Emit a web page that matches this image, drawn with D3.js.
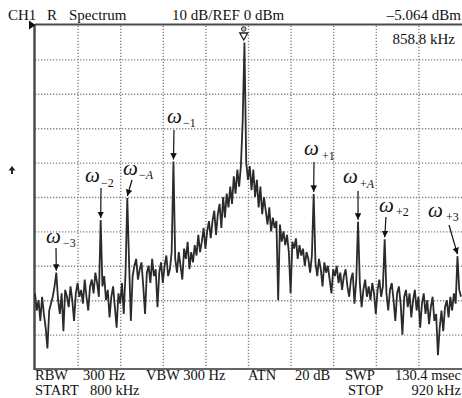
<!DOCTYPE html>
<html><head><meta charset="utf-8">
<script src="https://cdn.jsdelivr.net/npm/d3@7"></script>
<style>
html,body{margin:0;padding:0;background:#fff;}
svg{display:block;}
text{font-family:"Liberation Serif","Times New Roman",serif;fill:#111;}
</style></head>
<body><svg id="c" width="462" height="398"></svg>
<script>
// ---- data ----
const freqDomain = [800, 920];          // kHz
const levelDomain = [0, -100];          // dBm (REF 0 dBm, 10 dB/div)
const freqTicks = [800, 812, 824, 836, 848, 860, 872, 884, 896, 908, 920];
const levelTicks = [0, -10, -20, -30, -40, -50, -60, -70, -80, -90, -100];
const traceStart = 800, traceStep = 0.5; // kHz
const trace = [
 -78,-83,-80,-86,-79,-84,-88,-94,-83,-81,
 -79,-76,-72,-80,-84,-78,-89,-77,-79,-82,
 -76,-80,-86,-78,-75,-79,-77,-81,-74,-79,
 -83,-76,-74,-78,-72,-75,-79,-56.7,-76,-73,
 -80,-77,-85,-79,-76,-82,-88,-78,-81,-75,
 -84,-72,-50.3,-69,-86,-73,-70,-68,-74,-71,
 -69,-76,-84,-72,-70,-75,-68,-73,-71,-82,
 -72,-69,-75,-70,-67,-73,-71,-66,-39.7,-68,
 -72,-66,-70,-74,-65,-68,-63,-71,-66,-69,
 -64,-67,-61,-66,-63,-59,-65,-60,-57,-62,
 -57,-54,-61,-55,-52,-59,-50,-56,-49,-53,
 -47,-52,-44,-49,-42,-47,-41,-28,-5.064,
 -40,-45,-41,-48,-42,-50,-45,-53,-47,-55,-50,
 -54,-58,-53,-60,-56,-59,-57,-80,-58,-63,
 -60,-64,-61,-66,-78,-63,-65,-62,-68,-64,
 -67,-65,-70,-66,-68,-72,-67,-49.1,-69,-73,
 -68,-71,-76,-69,-72,-70,-74,-78,-71,-73,
 -70,-75,-72,-77,-73,-71,-76,-79,-74,-72,
 -81,-74,-57.2,-75,-82,-77,-74,-79,-76,-80,
 -75,-78,-84,-77,-74,-79,-76,-62.3,-78,-83,
 -77,-75,-80,-86,-78,-76,-81,-90,-79,-77,
 -82,-78,-85,-80,-77,-83,-79,-88,-81,-78,
 -84,-80,-87,-82,-79,-86,-84,-96,-88,-83,
 -89,-82,-80,-85,-79,-83,-78,-81,-67.2,-77,-79
];
const markerFreq = 858.8, markerLevel = -5.064;
// sideband annotations: subscript, spike frequency (kHz)
const sbSub  = ["\u22123", "\u22122", "\u2212A", "\u22121", "+1", "+A", "+2", "+3"];
const sbFreq = [806, 818.5, 826, 839, 878.5, 891, 898.5, 919];
const headerTexts = ["CH1", "R", "Spectrum", "10 dB/REF 0 dBm", "\u20135.064 dBm", "858.8 kHz"];
const footerTexts = ["RBW", "300 Hz", "VBW 300 Hz", "ATN", "20 dB", "SWP", "130.4 msec", "START", "800 kHz", "STOP", "920 kHz"];

// ---- layout ----
const L = 35, R = 461, T = 25, B = 369;
const svg = d3.select("#c");
const x = d3.scaleLinear().domain(freqDomain).range([L, R]);
const y = d3.scaleLinear().domain(levelDomain).range([T, B]);

// grid via axes
const gx = svg.append("g").attr("transform", `translate(0,${B})`)
  .call(d3.axisBottom(x).tickValues(freqTicks.slice(1, -1)).tickSize(-(B - T)).tickFormat(""));
const gy = svg.append("g").attr("transform", `translate(${L},0)`)
  .call(d3.axisLeft(y).tickValues(levelTicks.slice(1, -1)).tickSize(-(R - L + 2)).tickFormat(""));
[gx, gy].forEach(g => {
  g.select(".domain").remove();
  g.selectAll("line").attr("stroke", "#858585").attr("stroke-width", 1.4).attr("stroke-dasharray", "1.3,1.7");
});

// frame
svg.append("line").attr("x1", L).attr("x2", 462).attr("y1", T - 0.5).attr("y2", T - 0.5).attr("stroke", "#4a4a4a").attr("stroke-width", 2);
svg.append("line").attr("x1", L).attr("x2", 462).attr("y1", B).attr("y2", B).attr("stroke", "#666").attr("stroke-width", 2);
svg.append("line").attr("x1", L - 0.5).attr("x2", L - 0.5).attr("y1", T - 1).attr("y2", B + 1).attr("stroke", "#4a4a4a").attr("stroke-width", 2.5);
svg.append("path").attr("d", "M29,20.5 L35.5,25 L29,29.5 Z").attr("fill", "#111");

// trace
const line = d3.line().x((d, i) => x(traceStart + i * traceStep)).y(d => y(d)).curve(d3.curveLinear);
svg.append("path").datum(trace).attr("d", line).attr("fill", "none")
  .attr("stroke", "#2b2b2b").attr("stroke-width", 1.8).attr("stroke-linejoin", "miter").attr("stroke-miterlimit", 3);

// marker
const mx = x(markerFreq);
svg.append("circle").attr("cx", mx).attr("cy", 29).attr("r", 2.3).attr("fill", "#bbb").attr("stroke", "#333").attr("stroke-width", 1);
svg.append("path").attr("d", `M${mx - 4},33 L${mx + 4},33 L${mx},40 Z`).attr("fill", "#fff").attr("stroke", "#222").attr("stroke-width", 1.3);

// header / footer text
const hdr = [[8, 20, "start"], [47, 20, "start"], [69, 20, "start"], [172, 20, "start"], [461, 20, "end"], [455, 44, "end"]];
headerTexts.forEach((t, i) => svg.append("text").attr("x", hdr[i][0]).attr("y", hdr[i][1]).attr("text-anchor", hdr[i][2]).attr("font-size", 15).text(t));
const ftr = [[35, 380, "start"], [83, 380, "start"], [146, 380, "start"], [248, 380, "start"], [295, 380, "start"], [345, 380, "start"], [461, 380, "end"],
             [35, 395, "start"], [90, 395, "start"], [348, 395, "start"], [461, 395, "end"]];
footerTexts.forEach((t, i) => svg.append("text").attr("x", ftr[i][0]).attr("y", ftr[i][1]).attr("text-anchor", ftr[i][2]).attr("font-size", 14.5).text(t));

// small up arrow at left
svg.append("path").attr("d", "M12,166 L15.5,170.5 L13,170.5 L13,174 L11,174 L11,170.5 L8.5,170.5 Z").attr("fill", "#222");

// sideband annotations
const labPos = [[46, 243], [85, 182], [123, 175], [167, 123], [304, 155], [343, 183], [379, 212], [428, 217]];
const subOff = [[17, 4], [16, 5], [16, 4], [16, 4], [18, 5], [17, 5], [17, 4], [18, 4]];
const arrowStart = [[56, 248], [101, 188], [132, 180], [174, 130], [314, 162], [358, 191], [386, 217], [449, 225]];
const defs = svg.append("defs");
defs.append("marker").attr("id", "ah").attr("viewBox", "0 0 10 10").attr("refX", 10).attr("refY", 5)
  .attr("markerWidth", 6.5).attr("markerHeight", 6.5).attr("markerUnits", "userSpaceOnUse").attr("orient", "auto")
  .append("path").attr("d", "M0,0 L10,5 L0,10 Z").attr("fill", "#111");
sbFreq.forEach((f, i) => {
  const idx = Math.round((f - traceStart) / traceStep);
  const tx = x(traceStart + idx * traceStep), ty = y(trace[idx]) - 2;
  svg.append("line").attr("x1", arrowStart[i][0]).attr("y1", arrowStart[i][1]).attr("x2", tx).attr("y2", ty)
    .attr("stroke", "#111").attr("stroke-width", 1.2).attr("marker-end", "url(#ah)");
  svg.append("text").attr("x", labPos[i][0]).attr("y", labPos[i][1]).attr("font-size", 21).attr("font-style", "italic").text("\u03c9");
  const s = sbSub[i];
  const st = svg.append("text").attr("x", labPos[i][0] + subOff[i][0]).attr("y", labPos[i][1] + subOff[i][1]).attr("font-size", 12);
  st.append("tspan").text(s[0]);
  st.append("tspan").attr("font-style", s[1] === "A" ? "italic" : "normal").text(s[1]);
});
</script></body></html>
